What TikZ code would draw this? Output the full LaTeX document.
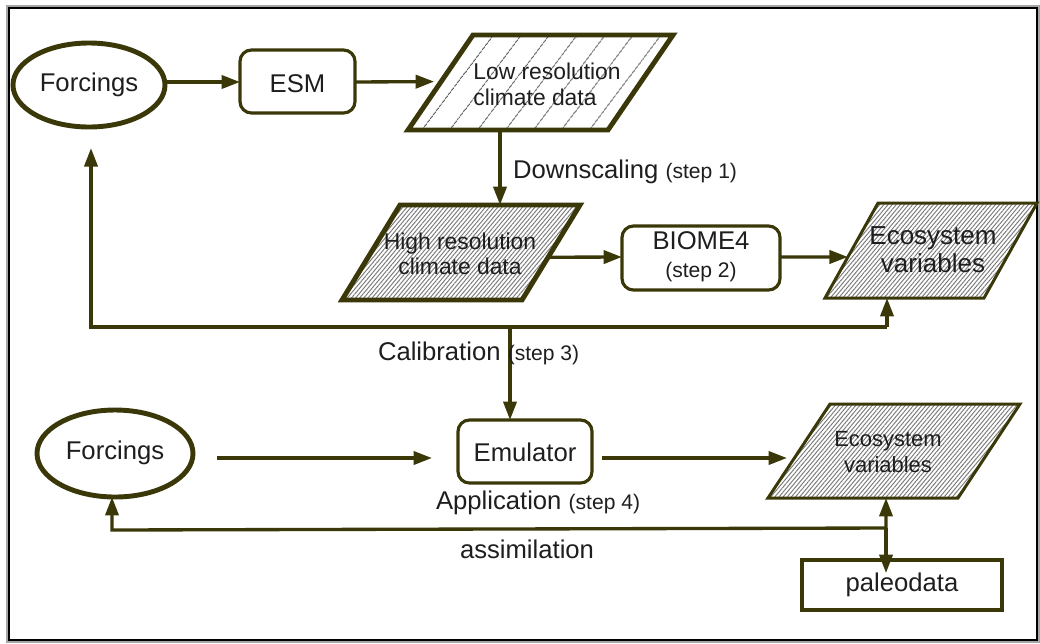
\documentclass[tikz,border=0pt]{standalone}
\usepackage{fontspec}
\setmainfont{Liberation Sans}
\usetikzlibrary{arrows.meta,patterns.meta,calc}
\definecolor{ol}{HTML}{3A3808}
\definecolor{tx}{HTML}{1E1E1E}
\definecolor{hatch}{HTML}{7A7A7A}
\definecolor{hatchs}{HTML}{5A5A5A}
\begin{document}
\begin{tikzpicture}[x=0.02cm,y=-0.02cm,
  every node/.style={text=tx, inner sep=0pt, outer sep=0pt},
  mainfont/.style={font=\fontsize{14.6}{17}\selectfont},
  ln/.style={draw=ol, line width=1.9pt},
  tip/.tip={Triangle[length=10.5pt,width=7.5pt]},
  arr/.style={ln, -tip},
  oval/.style={draw=ol, line width=2.8pt},
  rbox/.style={draw=ol, line width=1.8pt, rounded corners=6.5pt},
  sbox/.style={draw=ol, line width=1.9pt},
  sparse/.style={pattern={Lines[angle=53,distance=13pt,line width=0.5pt]}, pattern color=hatchs},
  dense/.style={pattern={Lines[angle=50,distance=1.8pt,line width=0.55pt]}, pattern color=hatch},
]
\useasboundingbox (0,0) rectangle (1040,643);
% outer frame
\draw[gray!70, line width=1.2pt] (7.5,6.5) rectangle (1038.5,641.5);
\draw[black, line width=1.3pt] (9,8) rectangle (1037,640);

% ---------- top row ----------
\draw[oval] (89,85) ellipse [x radius=76, y radius=42];
\node[mainfont] (f1) at (89,85) {Forcings};
\coordinate (f1b) at (89,127);

\draw[rbox] (240,50) rectangle (355,113);
\node[mainfont] (esm) at (297.5,84) {ESM};

% low resolution parallelogram
\coordinate (lr-tl) at (473,35); \coordinate (lr-tr) at (673,35);
\coordinate (lr-br) at (608,130); \coordinate (lr-bl) at (408,130);
\draw[draw=ol, line width=2.8pt, sparse] (lr-tl) -- (lr-tr) -- (lr-br) -- (lr-bl) -- cycle;
\node[font=\fontsize{13}{14.8}\selectfont, align=left] (lr) at (547,84) {Low resolution\\climate data};

% high resolution parallelogram
\coordinate (hr-tl) at (400,205); \coordinate (hr-tr) at (580,205);
\coordinate (hr-br) at (522,300); \coordinate (hr-bl) at (342,300);
\draw[draw=ol, line width=2.8pt, dense] (hr-tl) -- (hr-tr) -- (hr-br) -- (hr-bl) -- cycle;
\node[font=\fontsize{13}{14.3}\selectfont, align=center] (hr) at (460,254) {High resolution\\climate data};

% BIOME4
\draw[rbox] (622,226) rectangle (780,290);
\node[mainfont, align=center] (bio) at (701,257) {BIOME4\\[-1pt]{\fontsize{12}{14}\selectfont(step 2)}};

% ecosystem variables (top)
\coordinate (e1-tl) at (878,203); \coordinate (e1-tr) at (1037,203);
\coordinate (e1-br) at (984,298); \coordinate (e1-bl) at (825,298);
\draw[draw=ol, line width=1.7pt, dense] (e1-tl) -- (e1-tr) -- (e1-br) -- (e1-bl) -- cycle;
\node[font=\fontsize{14.8}{16}\selectfont, align=center] (e1) at (933,250) {Ecosystem\\variables};

% ---------- bottom row ----------
\draw[oval] (115,453.5) ellipse [x radius=78, y radius=43.5];
\node[mainfont] (f2) at (115,453) {Forcings};

\draw[rbox] (458,420) rectangle (592,483);
\node[mainfont] (emu) at (525,452) {Emulator};

\coordinate (e2-tl) at (830,404); \coordinate (e2-tr) at (1020,404);
\coordinate (e2-br) at (958,498); \coordinate (e2-bl) at (768,498);
\draw[draw=ol, line width=1.7pt, dense] (e2-tl) -- (e2-tr) -- (e2-br) -- (e2-bl) -- cycle;
\node[font=\fontsize{12.5}{14.7}\selectfont, align=center] (e2) at (888,452) {Ecosystem\\variables};

\draw[sbox] (802,560) rectangle (1002,610);
\node[mainfont] (pal) at (902,585) {paleodata};

% ---------- connectors ----------
\draw[arr] (165,82) -- (240,82);
\draw[arr, shorten >=4pt] (355,82) -- ($(lr-tl)!0.49!(lr-bl)$);
\draw[arr] ($(lr-bl)!0.46!(lr-br)$) coordinate (d1) -- (d1 |- hr-tl);
\draw[arr] ($(hr-tr)!0.55!(hr-br)$) coordinate (h1) -- (622,257);
\draw[arr] (780,257) -- ($(e1-tl)!0.568!(e1-bl)$);
% feedback / calibration
\coordinate (fbR) at (887,327);
\coordinate (fbL) at (91,327);
\draw[arr] (fbR) -- (fbR |- e1-bl);
\draw[arr, shorten >=12pt] (fbR) -- (fbL) -- (fbL |- f1b);
\coordinate (cal) at (510,327);
\draw[arr] (cal) -- (cal |- 0,420);
% bottom row
\draw[arr] (217,458) -- (432,458);
\draw[arr] (602,458) -- (787,458);
\coordinate (jn) at (886,528);
\coordinate (e2b) at ($(e2-bl)!0.621!(e2-br)$);
\draw[arr] (jn) -- (e2b);
\draw[arr] (jn) -- (jn |- pal.north);
\draw[arr] (jn) -- (112,530) -- (112,497);

% ---------- labels ----------
\node[mainfont, anchor=base west] (lab1) at (513,178) {Downscaling {\fontsize{12}{14}\selectfont(step 1)}};
\node[mainfont, anchor=base west] (lab3) at (378,360) {Calibration {\fontsize{12}{14}\selectfont(step 3)}};
\node[mainfont, anchor=base west] (lab4) at (436,509) {Application {\fontsize{12}{14}\selectfont(step 4)}};
\node[mainfont, anchor=base west] (lab5) at (460,558) {assimilation};
\end{tikzpicture}
\end{document}
